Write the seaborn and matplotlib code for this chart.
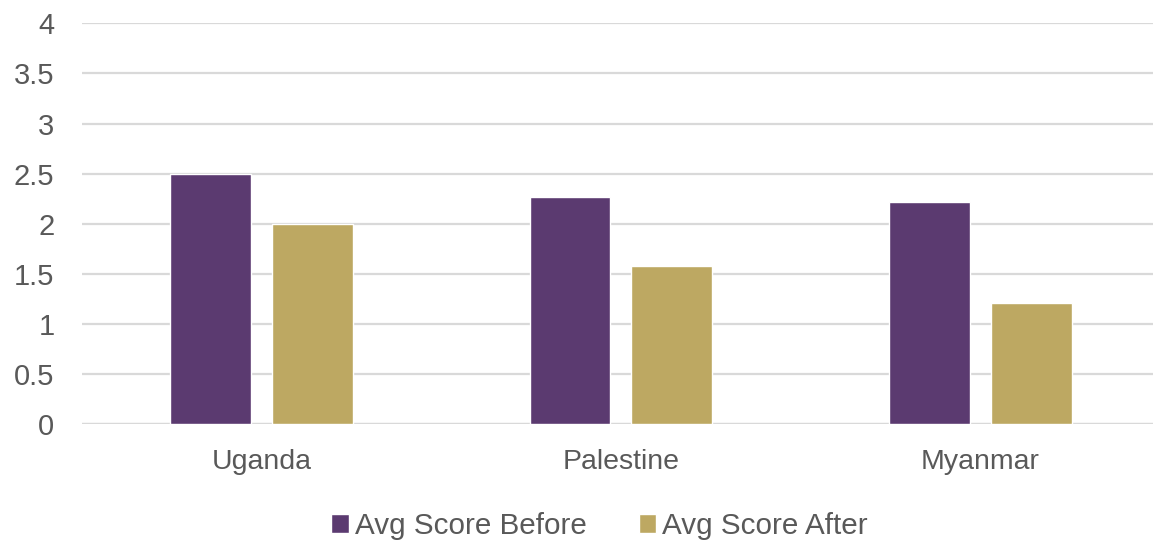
import matplotlib
matplotlib.use("Agg")
import matplotlib.pyplot as plt
import seaborn as sns
import pandas as pd

# Average scores per country, before and after
countries = ["Uganda", "Palestine", "Myanmar"]
score_before = [2.50, 2.27, 2.22]
score_after = [2.00, 1.58, 1.21]
series_names = ["Avg Score Before", "Avg Score After"]
y_ticks = [0, 0.5, 1, 1.5, 2, 2.5, 3, 3.5, 4]
y_tick_labels = ["0", "0.5", "1", "1.5", "2", "2.5", "3", "3.5", "4"]

df = pd.DataFrame({
    "Country": countries * 2,
    "Series": [series_names[0]] * len(countries) + [series_names[1]] * len(countries),
    "Score": score_before + score_after,
})

sns.set_theme(style="white")
plt.rcParams["font.family"] = ["Liberation Sans", "DejaVu Sans"]

text_color = "#595959"
grid_color = "#d9d9d9"
palette = {series_names[0]: "#5B3A70", series_names[1]: "#BDA862"}

fig = plt.figure(figsize=(11.53, 5.43), dpi=100)
ax = fig.add_axes([81.5 / 1153, 0.2186, 1071.5 / 1153, 0.957 - 0.2186])

sns.barplot(data=df, x="Country", y="Score", hue="Series", order=countries,
            hue_order=series_names, palette=palette, width=0.566, gap=0.205,
            saturation=1, ax=ax, legend=True, zorder=3)

ax.set_xlim(-0.5, 2.48)
ax.set_ylim(0, 4)
ax.set_yticks(y_ticks)
ax.set_yticklabels(y_tick_labels)
ax.set_xlabel("")
ax.set_ylabel("")
ax.yaxis.grid(True, color=grid_color, linewidth=1.6, zorder=0)
ax.set_axisbelow(True)
for side in ["top", "right", "left", "bottom"]:
    ax.spines[side].set_visible(False)
ax.axhline(0, color=grid_color, linewidth=1.6, zorder=1)
ax.tick_params(axis="y", length=0, pad=19.5, labelsize=21, labelcolor=text_color)
ax.tick_params(axis="x", length=0, pad=18, labelsize=20.5, labelcolor=text_color)

handles, labels = ax.get_legend_handles_labels()
ax.get_legend().remove()
fig.legend(handles, labels, loc="center", bbox_to_anchor=(0.520, 0.031),
           ncol=2, frameon=False, fontsize=21.3, labelcolor=text_color,
           handlelength=0.6, handleheight=0.6, handletextpad=0.2,
           columnspacing=1.75, borderaxespad=0)

fig.savefig("out.png", dpi=100)
